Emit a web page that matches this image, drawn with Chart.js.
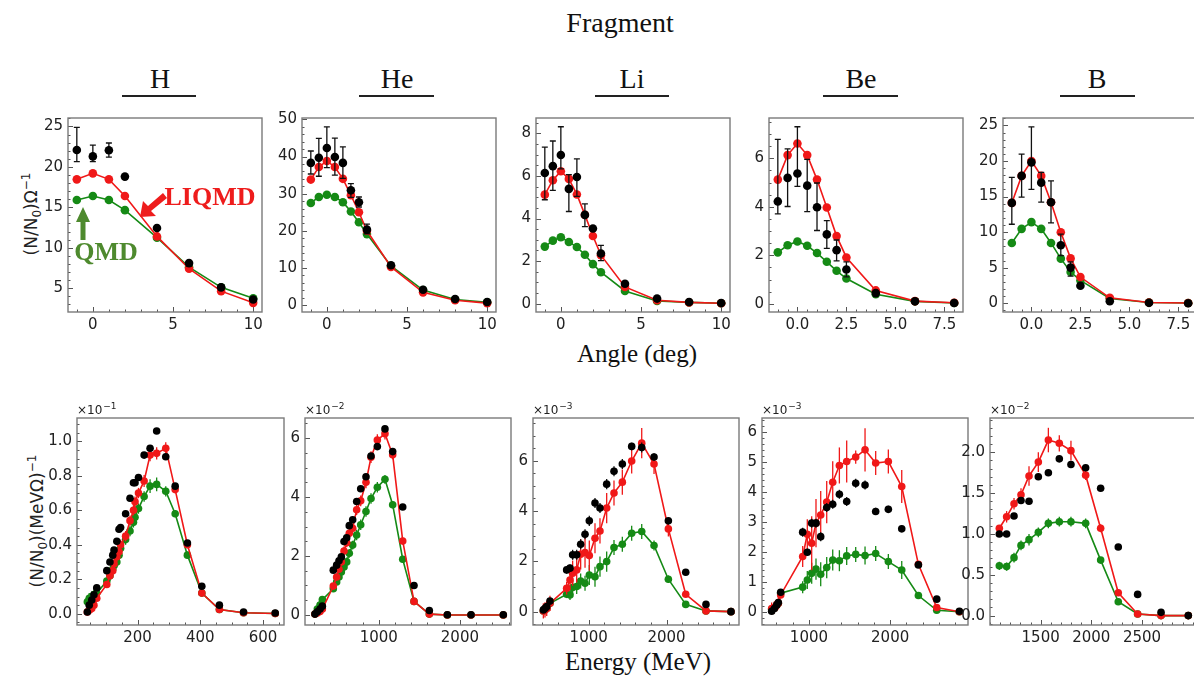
<!DOCTYPE html>
<html>
<head>
<meta charset="utf-8">
<script src="https://cdn.jsdelivr.net/npm/chart.js@4.4.0/dist/chart.umd.min.js"></script>
<style>
body { margin: 0; width: 1194px; height: 682px; overflow: hidden; background: #fff; position: relative; }
canvas { position: absolute; }
.t { position: absolute; font-family: 'Liberation Serif', serif; color: #111; white-space: nowrap; transform: translate(-50%, -50%); line-height: 1; }
.ul { position: absolute; height: 2px; background: #222; }
.ylab { position: absolute; font-family: 'DejaVu Sans', sans-serif; font-size: 17px; color: #222; white-space: nowrap; transform: translate(-50%, -50%) rotate(-90deg); line-height: 1; }
.ylab sub, .ylab sup { font-size: 12px; line-height: 0; }
svg { position: absolute; left: 0; top: 0; }
</style>
</head>
<body>
<div class="t" style="left:620px;top:23px;font-size:28px">Fragment</div>
<div class="t" style="left:160px;top:79px;font-size:28px">H</div>
<div class="t" style="left:397px;top:79px;font-size:28px">He</div>
<div class="t" style="left:632px;top:79px;font-size:28px">Li</div>
<div class="t" style="left:861px;top:79px;font-size:28px">Be</div>
<div class="t" style="left:1097px;top:79px;font-size:28px">B</div>
<div class="ul" style="left:122px;top:95px;width:74px"></div>
<div class="ul" style="left:359px;top:95px;width:75px"></div>
<div class="ul" style="left:595px;top:95px;width:74px"></div>
<div class="ul" style="left:823px;top:95px;width:75px"></div>
<div class="ul" style="left:1060px;top:95px;width:75px"></div>
<div class="t" style="left:637px;top:353px;font-size:25px">Angle (deg)</div>
<div class="t" style="left:638px;top:661px;font-size:25px">Energy (MeV)</div>
<div class="ylab" style="left:31px;top:214px">(N/N<sub>0</sub>)Ω<sup>−1</sup></div>
<div class="ylab" style="left:37px;top:521px">(N/N<sub>0</sub>)(MeVΩ)<sup>−1</sup></div>

<script>
// ---- angular distributions (top row) ----
const angH = [-1, 0, 1, 2, 4, 6, 8, 10];
const expH = [22.1, 21.3, 22.06, 18.8, 12.45, 8.1, 5.1, 3.6];
const expHUp = [2.8, 1.4, 0.9, 0, 0, 0, 0, 0];
const expHDn = [1.45, 0.65, 0.85, 0, 0, 0, 0, 0];
const liqmdH = [18.46, 19.2, 18.46, 16.4, 11.4, 7.4, 4.63, 3.18];
const qmdH = [15.9, 16.4, 15.9, 14.65, 11.25, 7.6, 5.1, 3.76];

const angHe = [-1, -0.5, 0, 0.5, 1, 1.5, 2, 2.5, 4, 6, 8, 10];
const expHe = [38.3, 39.7, 42.3, 39.9, 38.3, 30.9, 27.7, 20.3, 10.7, 4.1, 1.6, 0.8];
const expHeUp = [3.2, 5.2, 5.7, 5.1, 4.3, 1.8, 1.4, 1.5, 0, 0, 0, 0];
const expHeDn = [3.0, 5.0, 5.3, 4.9, 4.2, 1.9, 1.3, 1.1, 0, 0, 0, 0];
const liqmdHe = [33.8, 37.2, 38.8, 37.2, 34.0, 29.6, 25.0, 20.0, 10.25, 3.4, 1.26, 0.5];
const qmdHe = [27.5, 29.1, 29.7, 29.1, 27.7, 25.2, 22.3, 19.1, 10.5, 4.0, 1.45, 0.7];

const angLi = [-1, -0.5, 0, 0.5, 1, 1.5, 2, 2.5, 4, 6, 8, 10];
const expLi = [6.14, 6.46, 6.98, 5.39, 5.95, 4.17, 3.53, 2.36, 0.94, 0.24, 0.08, 0.03];
const expLiUp = [1.21, 1.18, 1.33, 0.67, 0.85, 0.52, 0, 0.38, 0, 0, 0, 0];
const expLiDn = [1.26, 1.14, 0.65, 1.06, 0.91, 0.55, 0, 0.34, 0, 0, 0, 0];
const liqmdLi = [5.12, 5.8, 6.22, 5.86, 5.13, 4.17, 3.18, 2.28, 0.79, 0.16, 0.06, 0.02];
const qmdLi = [2.68, 2.96, 3.12, 2.9, 2.66, 2.3, 1.86, 1.48, 0.6, 0.13, 0.06, 0.02];

const angBe = [-1, -0.5, 0, 0.5, 1, 1.5, 2, 2.5, 4, 6, 8];
const expBe = [4.22, 5.19, 5.37, 4.87, 3.98, 2.86, 2.21, 1.41, 0.44, 0.10, 0.03];
const expBeUp = [2.56, 1.2, 1.93, 1.08, 1.0, 0.57, 0.42, 0.32, 0, 0, 0];
const expBeDn = [0.51, 1.18, 0.53, 1.07, 0.96, 0.58, 0.44, 0.30, 0, 0, 0];
const liqmdBe = [5.12, 6.13, 6.61, 6.13, 5.12, 3.97, 2.79, 1.91, 0.55, 0.11, 0.04];
const qmdBe = [2.12, 2.41, 2.57, 2.39, 2.09, 1.73, 1.36, 1.04, 0.39, 0.10, 0.03];

const angB = [-1, -0.5, 0, 0.5, 1, 1.5, 2, 2.5, 4, 6, 8];
const expB = [14.1, 17.9, 19.8, 16.95, 14.2, 8.15, 5.0, 2.45, 0.28, 0.05, 0.0];
const expBUp = [3.6, 3.05, 5.0, 1.45, 3.0, 1.55, 0.8, 0, 0, 0, 0];
const expBDn = [3.0, 3.0, 3.8, 2.75, 2.9, 1.45, 1.2, 0, 0, 0, 0];
const liqmdB = [14.1, 17.9, 20.0, 17.9, 14.2, 9.98, 6.3, 3.67, 0.75, 0.10, 0.03];
const qmdB = [8.47, 10.45, 11.4, 10.45, 8.47, 6.26, 4.38, 3.2, 0.66, 0.10, 0.03];

// ---- energy distributions (bottom row), values in units of 10^exp ----
const eneH = [40, 46, 54, 61, 70, 102, 112, 121, 125, 134, 141, 146, 162, 176, 187, 192, 203, 221, 240, 261, 290, 320, 359, 405, 461, 538, 639];
const expEH = [0.01, 0.05, 0.08, 0.11, 0.15, 0.25, 0.30, 0.34, 0.37, 0.42, 0.49, 0.50, 0.58, 0.67, 0.76, 0.76, 0.79, 0.92, 0.96, 1.06, 0.91, 0.74, 0.41, 0.16, 0.05, 0.01, 0.005];
const liqmdEH = [0.01, 0.02, 0.03, 0.05, 0.09, 0.17, 0.22, 0.25, 0.29, 0.33, 0.36, 0.40, 0.45, 0.54, 0.60, 0.65, 0.70, 0.77, 0.92, 0.93, 0.96, 0.72, 0.40, 0.12, 0.025, 0.006, 0.002];
const liqmdEHErr = [0.02, 0.02, 0.02, 0.02, 0.02, 0.02, 0.02, 0.03, 0.03, 0.03, 0.03, 0.03, 0.03, 0.03, 0.03, 0.03, 0.03, 0.035, 0.035, 0.035, 0.035, 0.02, 0.02, 0.01, 0.01, 0.005, 0.005];
const qmdEH = [0.07, 0.09, 0.10, 0.11, 0.12, 0.19, 0.22, 0.26, 0.28, 0.30, 0.34, 0.38, 0.43, 0.48, 0.53, 0.56, 0.61, 0.68, 0.74, 0.75, 0.71, 0.58, 0.34, 0.12, 0.025, 0.006, 0.002];
const qmdEHErr = [0.03, 0.03, 0.03, 0.03, 0.03, 0.02, 0.03, 0.03, 0.03, 0.03, 0.04, 0.04, 0.03, 0.03, 0.03, 0.03, 0.03, 0.03, 0.04, 0.04, 0.03, 0.02, 0.02, 0.01, 0.01, 0.005, 0.005];

const eneHe = [213, 242, 275, 304, 439, 480, 509, 538, 571, 604, 636, 678, 727, 777, 842, 904, 982, 1076, 1171, 1295, 1434, 1623, 1845, 2137, 2535];
const expEHe = [0.03, 0.11, 0.2, 0.3, 1.52, 1.69, 1.84, 1.97, 2.49, 2.62, 3.03, 3.23, 3.85, 4.28, 4.69, 5.39, 5.71, 6.31, 5.54, 3.66, 1.0, 0.15, 0.01, 0.01, 0.01];
const liqmdEHe = [0.03, 0.07, 0.12, 0.2, 0.98, 1.29, 1.55, 1.8, 2.17, 2.45, 2.77, 2.94, 3.57, 3.87, 4.5, 5.35, 5.93, 6.15, 5.43, 2.51, 0.46, 0.03, 0.0, 0.0, 0.0];
const liqmdEHeErr = [0.05, 0.05, 0.05, 0.05, 0.1, 0.12, 0.12, 0.15, 0.15, 0.15, 0.15, 0.15, 0.18, 0.18, 0.2, 0.2, 0.2, 0.2, 0.15, 0.12, 0.08, 0.03, 0.01, 0.01, 0.01];
const qmdEHe = [0.03, 0.2, 0.34, 0.52, 0.89, 1.12, 1.29, 1.46, 1.63, 1.8, 2.09, 2.37, 2.71, 3.06, 3.51, 3.95, 4.33, 4.6, 3.74, 1.89, 0.46, 0.03, 0.0, 0.0, 0.0];
const qmdEHeErr = [0.05, 0.05, 0.08, 0.08, 0.1, 0.1, 0.12, 0.12, 0.15, 0.15, 0.15, 0.15, 0.18, 0.18, 0.18, 0.18, 0.18, 0.15, 0.12, 0.1, 0.06, 0.02, 0.01, 0.01, 0.01];

const eneLi = [418, 439, 461, 503, 717, 760, 794, 846, 897, 953, 1008, 1081, 1145, 1231, 1325, 1432, 1552, 1681, 1839, 2023, 2246, 2506, 2827];
const expELi = [0.07, 0.13, 0.2, 0.42, 1.66, 1.73, 2.26, 2.26, 2.68, 3.08, 3.61, 4.32, 4.12, 5.07, 5.58, 5.87, 6.57, 6.53, 6.15, 3.61, 1.57, 0.29, 0.0];
const expELiErr = [0.1, 0.1, 0.1, 0.1, 0.15, 0.15, 0.2, 0.2, 0.2, 0.2, 0.2, 0.2, 0.2, 0.2, 0.2, 0.2, 0.15, 0.2, 0.15, 0.1, 0.05, 0.05, 0.02];
const liqmdELi = [0.03, 0.07, 0.13, 0.33, 0.93, 1.26, 1.53, 1.66, 2.28, 2.35, 2.23, 2.92, 3.21, 4.12, 4.72, 5.15, 5.99, 6.7, 5.87, 3.29, 0.69, 0.03, 0.0];
const liqmdELiErr = [0.3, 0.3, 0.3, 0.3, 0.25, 0.4, 0.5, 0.5, 0.6, 0.6, 0.6, 0.6, 0.5, 0.6, 0.5, 0.5, 0.5, 0.6, 0.4, 0.3, 0.1, 0.05, 0.02];
const qmdELi = [0.03, 0.07, 0.13, 0.33, 0.69, 0.66, 0.96, 1.0, 1.22, 1.13, 1.46, 1.39, 1.79, 1.99, 2.55, 2.68, 3.12, 3.19, 2.63, 1.29, 0.29, 0.03, 0.0];
const qmdELiErr = [0.1, 0.1, 0.1, 0.1, 0.15, 0.2, 0.3, 0.3, 0.3, 0.3, 0.4, 0.4, 0.4, 0.4, 0.3, 0.3, 0.3, 0.3, 0.2, 0.15, 0.1, 0.05, 0.02];

const eneBe = [541, 574, 603, 623, 652, 923, 980, 1034, 1087, 1145, 1219, 1293, 1375, 1465, 1576, 1691, 1822, 1978, 2143, 2348, 2574, 2853];
const expEBe = [0.04, 0.13, 0.24, 0.33, 0.67, 2.67, 2.0, 2.97, 2.97, 2.52, 3.49, 3.6, 3.93, 3.69, 4.3, 4.24, 3.36, 3.43, 2.78, 1.58, 0.44, 0.04];
const expEBeErr = [0.05, 0.05, 0.05, 0.05, 0.1, 0.15, 0.12, 0.15, 0.15, 0.15, 0.15, 0.15, 0.15, 0.15, 0.15, 0.15, 0.12, 0.12, 0.1, 0.1, 0.05, 0.03];
const liqmdEBe = [0.13, 0.16, 0.24, 0.3, 0.58, 1.86, 2.6, 2.3, 2.97, 3.24, 3.67, 4.33, 4.89, 5.02, 5.17, 5.41, 4.97, 5.02, 4.19, 1.6, 0.16, 0.02];
const liqmdEBeErr = [0.2, 0.2, 0.2, 0.2, 0.1, 0.35, 0.5, 0.9, 0.8, 0.8, 0.7, 0.7, 0.6, 0.7, 0.22, 0.72, 0.4, 0.4, 0.55, 0.1, 0.05, 0.02];
const qmdEBe = [0.1, 0.15, 0.25, 0.3, 0.64, 0.84, 1.08, 1.3, 1.44, 1.27, 1.49, 1.74, 1.72, 1.88, 1.93, 1.89, 1.96, 1.69, 1.41, 0.56, 0.07, 0.02];
const qmdEBeErr = [0.1, 0.1, 0.1, 0.1, 0.1, 0.2, 0.3, 0.35, 0.35, 0.4, 0.35, 0.35, 0.35, 0.3, 0.25, 0.3, 0.25, 0.25, 0.3, 0.05, 0.03, 0.02];

const eneB = [1092, 1164, 1237, 1306, 1385, 1477, 1576, 1684, 1799, 1944, 2092, 2266, 2457, 2688, 2957];
const expEB = [1.0, 1.0, 1.22, 1.41, 1.4, 1.7, 1.75, 1.92, 1.85, 1.81, 1.56, 0.84, 0.26, 0.04, 0.0];
const liqmdEB = [1.07, 1.21, 1.37, 1.48, 1.71, 1.88, 2.15, 2.11, 2.02, 1.72, 1.07, 0.28, 0.02, 0.0, 0.0];
const liqmdEBErr = [0.04, 0.07, 0.07, 0.08, 0.12, 0.12, 0.15, 0.1, 0.12, 0.06, 0.05, 0.03, 0.02, 0.01, 0.01];
const qmdEB = [0.61, 0.6, 0.71, 0.86, 0.93, 1.02, 1.13, 1.15, 1.15, 1.13, 0.68, 0.17, 0.02, 0.0, 0.0];
const qmdEBErr = [0.05, 0.05, 0.06, 0.06, 0.07, 0.06, 0.06, 0.06, 0.06, 0.06, 0.03, 0.02, 0.01, 0.01, 0.01];

// ---- tick labels ----
const angTicks = [0, 5, 10];
const angTicksFine = [0, 2.5, 5, 7.5];
const yTicksH = [5, 10, 15, 20, 25];
const yTicksHe = [0, 10, 20, 30, 40, 50];
const yTicksLi = [0, 2, 4, 6, 8];
const yTicksBe = [0, 2, 4, 6];
const yTicksB = [0, 5, 10, 15, 20, 25];
const eTicksH = [200, 400, 600];
const eTicksMid = [1000, 2000];
const eTicksB = [1500, 2000, 2500];
const yETicksH = [0, 0.2, 0.4, 0.6, 0.8, 1.0];
const yETicksHe = [0, 2, 4, 6];
const yETicksLi = [0, 2, 4, 6];
const yETicksBe = [0, 1, 2, 3, 4, 5, 6];
const yETicksB = [0, 0.5, 1.0, 1.5, 2.0];
const energyExp = [-1, -2, -3, -3, -2];

const RED = '#f01818';
const GREEN = '#158a15';

function pts(xs, ys) { return xs.map(function (x, i) { return { x: x, y: ys[i] }; }); }

const errorBars = {
    id: 'errorBars',
    beforeDatasetDraw: function (chart, args) {
        const ds = chart.data.datasets[args.index];
        if (!ds.errUp) return;
        const ctx = chart.ctx, sx = chart.scales.x, sy = chart.scales.y;
        ctx.save();
        ctx.strokeStyle = ds.errColor;
        ctx.lineWidth = 1.3;
        ds.data.forEach(function (p, i) {
            const up = ds.errUp[i], dn = ds.errDn[i];
            if (!up && !dn) return;
            const px = sx.getPixelForValue(p.x);
            const y1 = sy.getPixelForValue(p.y + up), y2 = sy.getPixelForValue(p.y - dn);
            ctx.beginPath();
            ctx.moveTo(px, y1); ctx.lineTo(px, y2);
            if (ds.cap) {
                ctx.moveTo(px - ds.cap, y1); ctx.lineTo(px + ds.cap, y1);
                ctx.moveTo(px - ds.cap, y2); ctx.lineTo(px + ds.cap, y2);
            }
            ctx.stroke();
        });
        ctx.restore();
    }
};

const frame = {
    id: 'frame',
    afterDatasetsDraw: function (chart, args, o) {
        const ctx = chart.ctx, a = chart.chartArea, sx = chart.scales.x, sy = chart.scales.y;
        ctx.save();
        ctx.strokeStyle = '#555';
        ctx.lineWidth = 1;
        ctx.beginPath();
        function minors(min, max, step, major) {
            const out = [];
            for (let n = Math.ceil(min / step - 1e-9); n * step <= max + 1e-9; n++) {
                const v = n * step;
                if (!major.some(function (m) { return Math.abs(m - v) < step / 10; })) out.push(v);
            }
            return out;
        }
        o.xt.forEach(function (v) { const p = Math.round(sx.getPixelForValue(v)) + 0.5; ctx.moveTo(p, a.bottom); ctx.lineTo(p, a.bottom - 5); });
        minors(sx.min, sx.max, o.xm, o.xt).forEach(function (v) { const p = Math.round(sx.getPixelForValue(v)) + 0.5; ctx.moveTo(p, a.bottom); ctx.lineTo(p, a.bottom - 2.5); });
        o.yt.forEach(function (v) { const p = Math.round(sy.getPixelForValue(v)) + 0.5; ctx.moveTo(a.left, p); ctx.lineTo(a.left + 5, p); });
        minors(sy.min, sy.max, o.ym, o.yt).forEach(function (v) { const p = Math.round(sy.getPixelForValue(v)) + 0.5; ctx.moveTo(a.left, p); ctx.lineTo(a.left + 2.5, p); });
        ctx.stroke();
        ctx.strokeStyle = '#7a7a7a';
        ctx.lineWidth = 1.4;
        ctx.strokeRect(a.left, a.top, a.right - a.left, a.bottom - a.top);
        if (o.exp) {
            ctx.fillStyle = '#222';
            ctx.font = '12px "DejaVu Sans"';
            ctx.textBaseline = 'alphabetic';
            ctx.fillText('×10', a.left, a.top - 4);
            const w = ctx.measureText('×10').width;
            ctx.font = '9px "DejaVu Sans"';
            ctx.fillText('−' + Math.abs(o.exp), a.left + w + 1, a.top - 9);
        }
        ctx.restore();
    }
};

function panel(p) {
    const L = 58, PT = 22, PR = 22, B = 28;
    const w = p.box[2] - p.box[0], h = p.box[3] - p.box[1];
    const c = document.createElement('canvas');
    c.width = w + L + PR;
    c.height = h + PT + B;
    c.style.left = (p.box[0] - L) + 'px';
    c.style.top = (p.box[1] - PT) + 'px';
    document.body.appendChild(c);

    const datasets = [
        { label: 'Exp', data: pts(p.x, p.exp), showLine: false, backgroundColor: '#000', borderColor: '#000',
          pointRadius: p.r, pointBorderWidth: 0, errUp: p.expErrUp, errDn: p.expErrDn, errColor: '#111', cap: p.cap },
        { label: 'LIQMD', data: pts(p.x, p.liqmd), showLine: true, backgroundColor: RED, borderColor: RED, borderWidth: 1.6,
          pointRadius: p.r, pointBorderWidth: 0, errUp: p.liqmdErr, errDn: p.liqmdErr, errColor: RED, cap: 0 },
        { label: 'QMD', data: pts(p.x, p.qmd), showLine: true, backgroundColor: GREEN, borderColor: GREEN, borderWidth: 1.6,
          pointRadius: p.r, pointBorderWidth: 0, errUp: p.qmdErr, errDn: p.qmdErr, errColor: GREEN, cap: 0 }
    ];
    datasets.forEach(function (d) { d.tension = 0; d.clip = false; d.pointHoverRadius = p.r; });

    const tickFont = { family: 'DejaVu Sans', size: 15 };
    new Chart(c.getContext('2d'), {
        type: 'scatter',
        data: { datasets: datasets },
        options: {
            responsive: false,
            animation: false,
            devicePixelRatio: 1,
            events: [],
            layout: { padding: { top: PT, right: PR, left: 0, bottom: 0 } },
            plugins: {
                legend: { display: false },
                tooltip: { enabled: false },
                frame: { xt: p.xt, yt: p.yt, xm: p.xm, ym: p.ym, exp: p.exp10 }
            },
            scales: {
                x: {
                    type: 'linear', min: p.xr[0], max: p.xr[1],
                    afterBuildTicks: function (s) { s.ticks = p.xt.map(function (v) { return { value: v }; }); },
                    afterFit: function (s) { s.height = B; },
                    grid: { display: false, drawTicks: false },
                    border: { display: false },
                    ticks: { font: tickFont, color: '#222', padding: 4, maxRotation: 0, autoSkip: false,
                             callback: function (v) { return v.toFixed(p.xd); } }
                },
                y: {
                    type: 'linear', min: p.yr[0], max: p.yr[1],
                    afterBuildTicks: function (s) { s.ticks = p.yt.map(function (v) { return { value: v }; }); },
                    afterFit: function (s) { s.width = L; },
                    grid: { display: false, drawTicks: false },
                    border: { display: false },
                    ticks: { font: tickFont, color: '#222', padding: 5, autoSkip: false,
                             callback: function (v) { return v.toFixed(p.yd); } }
                }
            }
        },
        plugins: [errorBars, frame]
    });
}

const topY = [118, 312], botY = [418, 625];
const topCommon = { r: 4.3, cap: 3, xm: 1, liqmdErr: null, qmdErr: null, xd: 0, yd: 0 };

panel(Object.assign({}, topCommon, { box: [68, topY[0], 262, topY[1]], x: angH, exp: expH, expErrUp: expHUp, expErrDn: expHDn,
    liqmd: liqmdH, qmd: qmdH, xr: [-1.55, 10.55], yr: [2.05, 26.05], xt: angTicks, yt: yTicksH, ym: 1 }));
panel(Object.assign({}, topCommon, { box: [302, topY[0], 496, topY[1]], x: angHe, exp: expHe, expErrUp: expHeUp, expErrDn: expHeDn,
    liqmd: liqmdHe, qmd: qmdHe, xr: [-1.55, 10.55], yr: [-1.9, 50.4], xt: angTicks, yt: yTicksHe, ym: 2 }));
panel(Object.assign({}, topCommon, { box: [536, topY[0], 730, topY[1]], x: angLi, exp: expLi, expErrUp: expLiUp, expErrDn: expLiDn,
    liqmd: liqmdLi, qmd: qmdLi, xr: [-1.55, 10.55], yr: [-0.39, 8.72], xt: angTicks, yt: yTicksLi, ym: 0.5 }));
panel(Object.assign({}, topCommon, { box: [769, topY[0], 963, topY[1]], x: angBe, exp: expBe, expErrUp: expBeUp, expErrDn: expBeDn,
    liqmd: liqmdBe, qmd: qmdBe, xr: [-1.45, 8.45], yr: [-0.34, 7.66], xt: angTicksFine, yt: yTicksBe, xm: 0.5, ym: 0.5, xd: 1 }));
panel(Object.assign({}, topCommon, { box: [1003, topY[0], 1197, topY[1]], x: angB, exp: expB, expErrUp: expBUp, expErrDn: expBDn,
    liqmd: liqmdB, qmd: qmdB, xr: [-1.45, 8.45], yr: [-1.24, 26.04], xt: angTicksFine, yt: yTicksB, xm: 0.5, ym: 1, xd: 1 }));

const botCommon = { r: 3.8, cap: 0, xd: 0 };
panel(Object.assign({}, botCommon, { box: [77, botY[0], 284, botY[1]], x: eneH, exp: expEH, expErrUp: null, expErrDn: null,
    liqmd: liqmdEH, liqmdErr: liqmdEHErr, qmd: qmdEH, qmdErr: qmdEHErr, xr: [7, 667], yr: [-0.065, 1.135],
    xt: eTicksH, yt: yETicksH, xm: 50, ym: 0.05, yd: 1, exp10: energyExp[0] }));
panel(Object.assign({}, botCommon, { box: [305, botY[0], 511, botY[1]], x: eneHe, exp: expEHe, expErrUp: null, expErrDn: null,
    liqmd: liqmdEHe, liqmdErr: liqmdEHeErr, qmd: qmdEHe, qmdErr: qmdEHeErr, xr: [90, 2630], yr: [-0.34, 6.68],
    xt: eTicksMid, yt: yETicksHe, xm: 200, ym: 0.5, yd: 0, exp10: energyExp[1] }));
panel(Object.assign({}, botCommon, { box: [533, botY[0], 739, botY[1]], x: eneLi, exp: expELi, expErrUp: expELiErr, expErrDn: expELiErr,
    liqmd: liqmdELi, liqmdErr: liqmdELiErr, qmd: qmdELi, qmdErr: qmdELiErr, xr: [285, 2930], yr: [-0.53, 7.7],
    xt: eTicksMid, yt: yETicksLi, xm: 200, ym: 0.5, yd: 0, exp10: energyExp[2] }));
panel(Object.assign({}, botCommon, { box: [762, botY[0], 968, botY[1]], x: eneBe, exp: expEBe, expErrUp: expEBeErr, expErrDn: expEBeErr,
    liqmd: liqmdEBe, liqmdErr: liqmdEBeErr, qmd: qmdEBe, qmdErr: qmdEBeErr, xr: [422, 2959], yr: [-0.42, 6.47],
    xt: eTicksMid, yt: yETicksBe, xm: 200, ym: 0.2, yd: 0, exp10: energyExp[3] }));
panel(Object.assign({}, botCommon, { box: [990, botY[0], 1196, botY[1]], x: eneB, exp: expEB, expErrUp: null, expErrDn: null,
    liqmd: liqmdEB, liqmdErr: liqmdEBErr, qmd: qmdEB, qmdErr: qmdEBErr, xr: [1000, 3033], yr: [-0.115, 2.42],
    xt: eTicksB, yt: yETicksB, xm: 100, ym: 0.1, yd: 1, exp10: energyExp[4] }));
</script>

<svg width="1194" height="682">
  <polygon points="163,193 167,198 151,211 156,216 140,217 143,201 148,206" fill="#ee1c1c"/>
  <polygon points="80.5,240 85.5,240 85.5,222 90,222 83,207 76,222 80.5,222" fill="#4e8a2e"/>
</svg>
<div class="t" style="left:210px;top:197px;font-size:26px;font-weight:bold;color:#ee1c1c">LIQMD</div>
<div class="t" style="left:106px;top:252px;font-size:26px;font-weight:bold;color:#4e8a2e">QMD</div>
</body>
</html>
